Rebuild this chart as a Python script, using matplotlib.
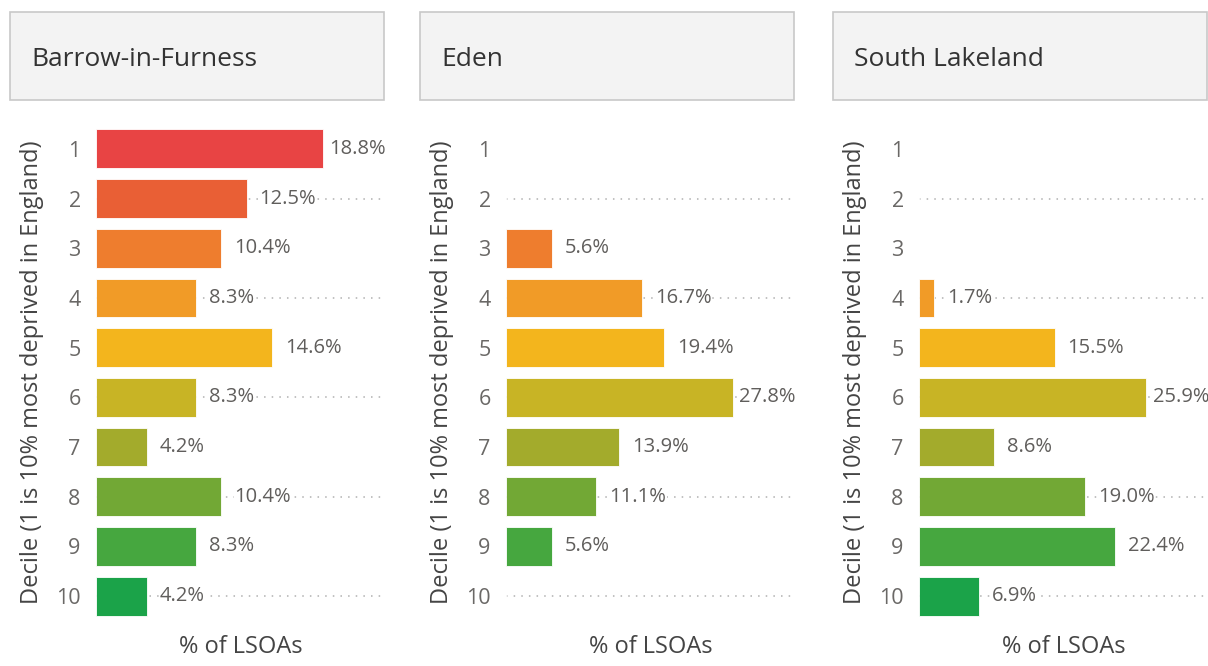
import numpy as np
import matplotlib.pyplot as plt
from matplotlib.patches import Rectangle

plt.rcParams['font.family'] = ['Open Sans', 'DejaVu Sans']

# Données
districts = ['Barrow-in-Furness', 'Eden', 'South Lakeland']
deciles = ['1', '2', '3', '4', '5', '6', '7', '8', '9', '10']
barrow = [18.8, 12.5, 10.4, 8.3, 14.6, 8.3, 4.2, 10.4, 8.3, 4.2]
eden = [0, 0, 5.6, 16.7, 19.4, 27.8, 13.9, 11.1, 5.6, 0]
south_lakeland = [0, 0, 0, 1.7, 15.5, 25.9, 8.6, 19.0, 22.4, 6.9]
series = [barrow, eden, south_lakeland]

colors = ['#e84444', '#e95f35', '#ee7d2e', '#f19b27', '#f3b51d',
          '#c8b425', '#a3ab2c', '#72a835', '#46a73f', '#1ba349']

W, H = 1208, 666
fig = plt.figure(figsize=(W / 100, H / 100), dpi=100)
renderer = fig.canvas.get_renderer()

text_col = '#605e5c'
offsets = [0, 410, 823]
ax_w = 290

for k, (name, vals) in enumerate(zip(districts, series)):
    off = offsets[k]
    # boîte de titre
    box = Rectangle(((10 + off) / W, 1 - 100 / H), 374 / W, 88 / H,
                    transform=fig.transFigure, facecolor='#f3f3f3',
                    edgecolor='#c8c8c8', linewidth=1.2)
    fig.patches.append(box)
    fig.text((31 + off) / W, 1 - 59 / H, name, fontsize=19, color='#333333',
             va='center', ha='left')

    ax = fig.add_axes([(96 + off) / W, (H - 621) / H, ax_w / W, 497 / H])
    y = np.arange(len(deciles))
    xmax = max(vals) * 1.28
    ax.set_xlim(0, xmax)
    ax.set_ylim(len(deciles) - 0.5, -0.5)
    # lignes pointillées sur les déciles pairs
    for yi in y[1::2]:
        ax.plot([0, xmax], [yi, yi], linestyle=(0, (1, 4)), color='#b0b0b0',
                linewidth=1.1, zorder=0, clip_on=False)
    ax.barh(y, vals, height=0.78, color=colors, edgecolor='white',
            linewidth=0.6, zorder=2)
    pad = xmax / ax_w * 13
    for yi, v in zip(y, vals):
        if v > 0:
            t = ax.text(v + pad, yi, f'{v:.1f}%', va='center', ha='left',
                        fontsize=14.5, color=text_col, zorder=3,
                        bbox=dict(facecolor='white', edgecolor='none', pad=0.5))
            # étiquette repoussée à gauche si elle déborde
            bb = t.get_window_extent(renderer)
            right = ax.transData.transform((xmax, 0))[0]
            if bb.x1 > right:
                t.set_position((xmax, yi))
                t.set_ha('right')
    ax.set_yticks(y)
    ax.set_yticklabels(deciles, fontsize=15.5, color='#6a6866')
    ax.tick_params(axis='y', length=0, pad=11)
    ax.set_xticks([])
    for s in ax.spines.values():
        s.set_visible(False)
    ax.set_xlabel('% of LSOAs', fontsize=17, color='#444444', labelpad=10)
    ax.set_ylabel('Decile (1 is 10% most deprived in England)', fontsize=17,
                  color='#444444', labelpad=9)

fig.savefig('out.png', dpi=100, facecolor='white')
